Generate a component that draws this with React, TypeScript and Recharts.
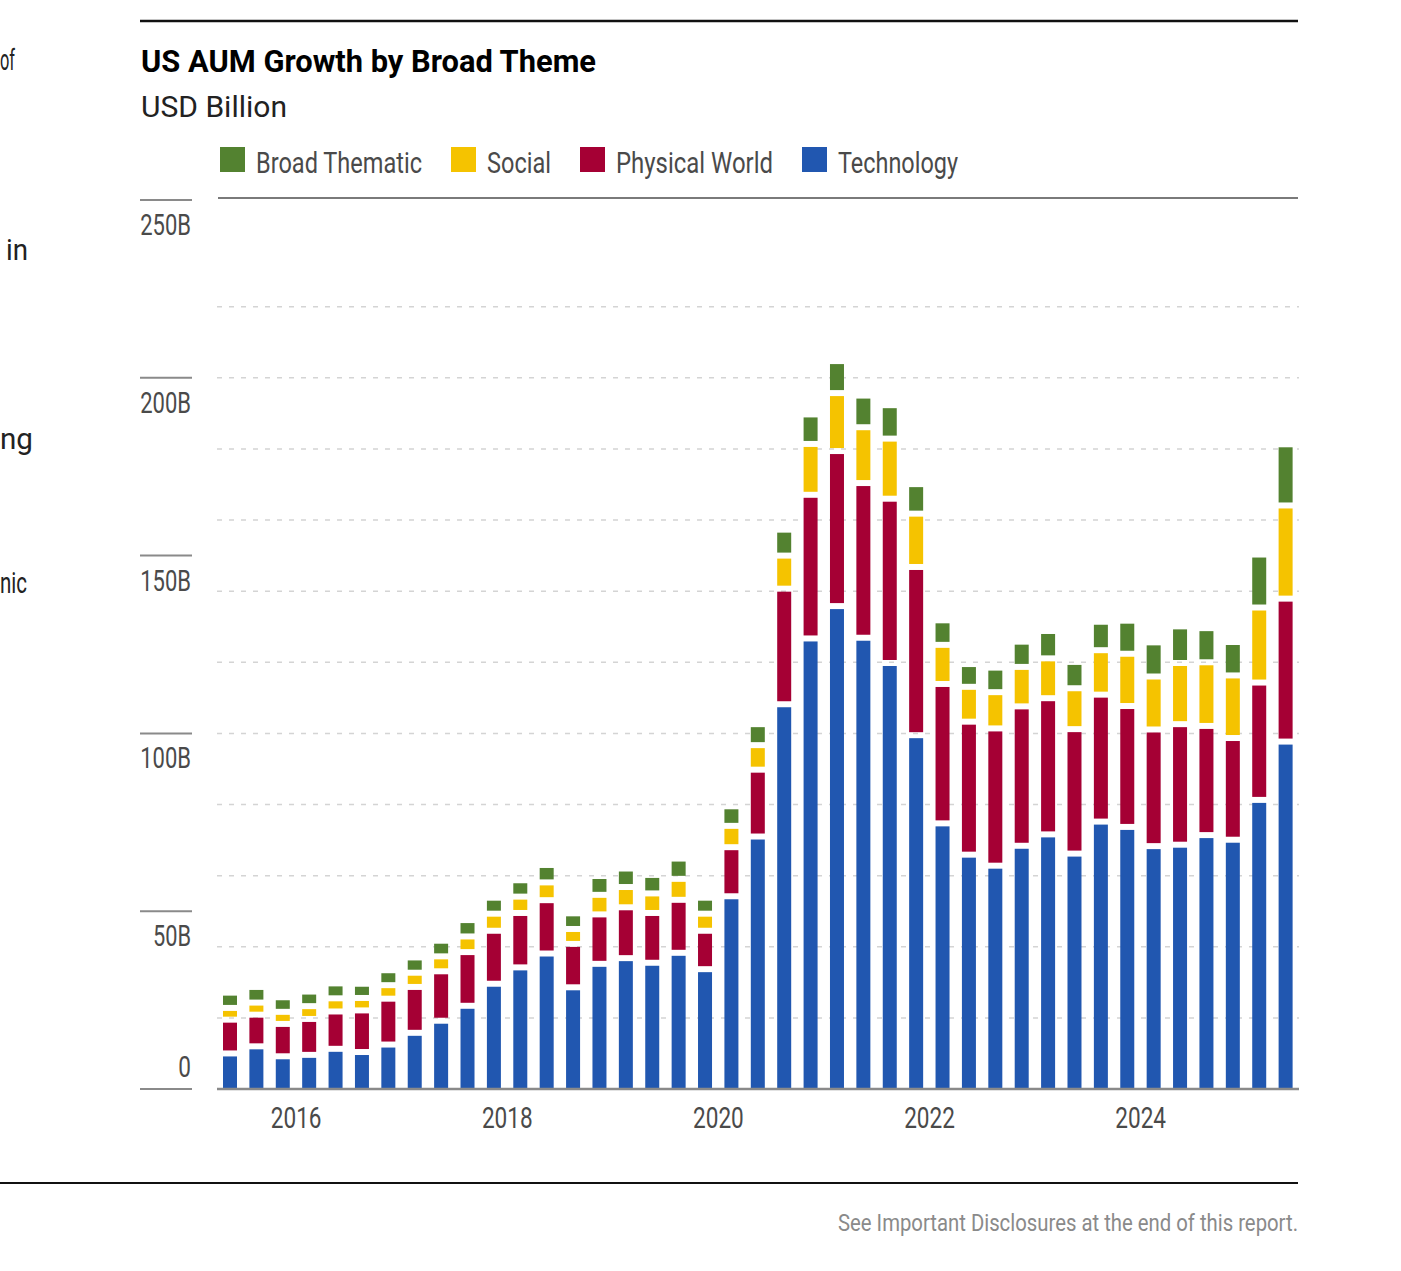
import React from "react";
import { BarChart, Bar, XAxis, YAxis, CartesianGrid } from "recharts";

const FONT = "Roboto, 'Liberation Sans', sans-serif";

// quarters, 2015 Q2 .. 2025 Q2
const quarters = [
  "2015 Q2", "2015 Q3", "2015 Q4",
  "2016 Q1", "2016 Q2", "2016 Q3", "2016 Q4",
  "2017 Q1", "2017 Q2", "2017 Q3", "2017 Q4",
  "2018 Q1", "2018 Q2", "2018 Q3", "2018 Q4",
  "2019 Q1", "2019 Q2", "2019 Q3", "2019 Q4",
  "2020 Q1", "2020 Q2", "2020 Q3", "2020 Q4",
  "2021 Q1", "2021 Q2", "2021 Q3", "2021 Q4",
  "2022 Q1", "2022 Q2", "2022 Q3", "2022 Q4",
  "2023 Q1", "2023 Q2", "2023 Q3", "2023 Q4",
  "2024 Q1", "2024 Q2", "2024 Q3", "2024 Q4",
  "2025 Q1", "2025 Q2",
];

const technology = [
  10.0, 12.0, 9.2, 9.6, 11.3, 10.4, 12.5, 15.8, 19.2, 23.4, 29.6, 34.2, 38.1, 28.6,
  35.2, 36.8, 35.5, 38.3, 33.7, 54.2, 71.0, 108.2, 126.7, 135.8, 126.9, 119.8, 99.5,
  74.7, 65.9, 62.8, 68.4, 71.6, 66.2, 75.2, 73.7, 68.3, 68.7, 71.4, 70.1, 81.3, 97.7,
];
const physicalWorld = [
  9.5, 8.9, 9.1, 10.1, 10.5, 11.7, 12.9, 12.9, 13.9, 15.1, 14.9, 15.3, 15.0, 12.2,
  13.9, 14.3, 14.0, 14.9, 10.8, 13.8, 18.8, 32.5, 40.4, 43.6, 43.5, 46.2, 47.3,
  39.2, 37.4, 38.6, 39.2, 38.3, 35.0, 35.7, 34.0, 32.8, 33.9, 30.7, 28.6, 33.0, 40.2,
];
const social = [
  3.3, 3.4, 3.4, 3.6, 3.7, 3.5, 3.8, 4.0, 4.2, 4.4, 4.8, 4.6, 5.0, 4.2,
  5.5, 5.7, 5.5, 5.9, 4.8, 6.0, 6.9, 9.3, 14.3, 16.3, 15.7, 16.9, 15.0,
  11.0, 9.8, 10.2, 11.1, 11.2, 11.5, 12.5, 14.7, 14.9, 17.2, 17.9, 17.6, 21.1, 26.2,
];
const broadThematic = [
  4.3, 4.4, 4.1, 4.1, 4.2, 4.0, 4.2, 4.3, 4.4, 4.6, 4.5, 4.6, 4.9, 4.4,
  5.3, 5.2, 5.2, 5.7, 4.5, 5.5, 5.9, 7.3, 8.3, 9.0, 8.9, 9.4, 8.3,
  6.9, 6.4, 6.9, 7.1, 7.7, 7.4, 8.0, 9.3, 9.6, 10.3, 9.6, 9.4, 14.9, 17.2,
];

const yTicks = [0, 50, 100, 150, 200, 250];
const gridValues = [20, 40, 60, 80, 100, 120, 140, 160, 180, 200, 220];
const yearLabels = ["2016", "2018", "2020", "2022", "2024"];
const Y_MAX = 250;

const series = [
  { key: "technology", name: "Technology", color: "#2157b0" },
  { key: "physicalWorld", name: "Physical World", color: "#a50034" },
  { key: "social", name: "Social", color: "#f5c300" },
  { key: "broadThematic", name: "Broad Thematic", color: "#538230" },
];

const data = quarters.map((q, i) => ({
  quarter: q,
  technology: technology[i],
  physicalWorld: physicalWorld[i],
  social: social[i],
  broadThematic: broadThematic[i],
}));

const CHART_W = 1180;
const CHART_H = 960;
const MARGIN = { top: 20, right: 11, bottom: 11, left: 0 };
const Y_W = 87;
const BAND = (CHART_W - MARGIN.right - Y_W) / quarters.length;
const GAP = 6;
const CHAR_W = 12.7; // condensed digit width

// condensed text: real text squeezed to the measured width
const T = ({ x, y, w, size, weight = 400, fill = "#444", anchor = "start", children }: any) => (
  <text
    x={x}
    y={y}
    fontSize={size}
    fontWeight={weight}
    fontFamily={FONT}
    fill={fill}
    textAnchor={anchor}
    textLength={w}
    lengthAdjust="spacingAndGlyphs"
  >
    {children}
  </text>
);

const Segment = (props: any) => {
  const { x, y, width, height, fill, isBottom } = props;
  const top = y + GAP / 2;
  const h = height - (isBottom ? GAP / 2 : GAP);
  if (!(h > 0)) return null;
  return <rect x={x} y={top} width={width} height={h} fill={fill} />;
};

const YTick = (props: any) => {
  const { y, payload } = props;
  const v = payload.value;
  const label = v === 0 ? "0" : `${v}B`;
  return (
    <g>
      <line x1={10} x2={62} y1={y} y2={y} stroke="#8a8a8a" strokeWidth={2} />
      <T x={61} y={v === 0 ? y - 12 : y + 35} w={label.length * CHAR_W} size={30} anchor="end" fill="#4a4a4a">
        {label}
      </T>
    </g>
  );
};

const XTick = (props: any) => {
  const { x, payload } = props;
  const [yr, q] = String(payload.value).split(" ");
  if (q !== "Q1" || !yearLabels.includes(yr)) return null;
  return (
    <T x={x - BAND / 2} y={948} w={yr.length * CHAR_W} size={30} anchor="middle" fill="#4a4a4a">
      {yr}
    </T>
  );
};

const gridCoords = ({ yAxis, offset }: any) =>
  gridValues.map((v) => {
    const sc = yAxis && yAxis.scale;
    if (typeof sc === "function") return sc(v);
    if (sc && typeof sc.map === "function") return sc.map(v);
    return offset.top + offset.height * (1 - v / Y_MAX);
  });

// fragments of the neighbouring text column
const sideText = [
  { text: "of", x: 0, y: 70, w: 15 },
  { text: "in", x: 6, y: 260, w: 22 },
  { text: "ng", x: 0, y: 449, w: 33 },
  { text: "nic", x: 0, y: 593, w: 27 },
];

const legendTextW = [166, 64, 157, 120];

export default function App() {
  const legendOrder = [...series].reverse();
  let lx = 220;
  const legendItems = legendOrder.map((s, i) => {
    const item = { ...s, x: lx, w: legendTextW[i] };
    lx += 36 + legendTextW[i] + 29;
    return item;
  });

  return (
    <div style={{ position: "absolute", left: 0, top: 0, width: 1401, height: 1271, background: "#fff", overflow: "hidden" }}>
      <div style={{ position: "absolute", left: 130, top: 180 }}>
        <BarChart width={CHART_W} height={CHART_H} data={data} margin={MARGIN} barSize={14}>
          <CartesianGrid
            vertical={false}
            stroke="#d4d4d4"
            strokeWidth={1.5}
            strokeDasharray="5 7"
            horizontalCoordinatesGenerator={gridCoords}
          />
          <XAxis
            dataKey="quarter"
            interval={0}
            height={40}
            tickLine={false}
            axisLine={{ stroke: "#8a8a8a", strokeWidth: 2.5 }}
            tick={<XTick />}
          />
          <YAxis
            width={Y_W}
            domain={[0, Y_MAX]}
            ticks={yTicks}
            axisLine={false}
            tickLine={false}
            tick={<YTick />}
          />
          {series.map((s, i) => (
            <Bar
              key={s.key}
              dataKey={s.key}
              name={s.name}
              stackId="aum"
              fill={s.color}
              isAnimationActive={false}
              shape={(p: any) => <Segment {...p} isBottom={i === 0} />}
            />
          ))}
        </BarChart>
      </div>

      <svg width={1401} height={1271} style={{ position: "absolute", left: 0, top: 0, pointerEvents: "none" }}>
        {sideText.map((s) => (
          <T key={s.text} x={s.x} y={s.y} w={s.w} size={30} fill="#222">
            {s.text}
          </T>
        ))}

        <line x1={140} x2={1298} y1={21} y2={21} stroke="#111" strokeWidth={2.5} />
        <T x={141} y={72} w={455} size={31} weight={700} fill="#000">
          US AUM Growth by Broad Theme
        </T>
        <T x={141} y={117} w={146} size={29} fill="#222">
          USD Billion
        </T>

        {legendItems.map((s) => (
          <g key={s.key}>
            <rect x={s.x} y={147} width={25} height={25} fill={s.color} />
            <T x={s.x + 36} y={173} w={s.w} size={29} fill="#4a4a4a">
              {s.name}
            </T>
          </g>
        ))}

        <line x1={218} x2={1298} y1={198} y2={198} stroke="#7a7a7a" strokeWidth={2} />

        <line x1={0} x2={1298} y1={1183} y2={1183} stroke="#111" strokeWidth={2} />
        <T x={838} y={1231} w={460} size={23} fill="#8a8a8a">
          See Important Disclosures at the end of this report.
        </T>
      </svg>
    </div>
  );
}
